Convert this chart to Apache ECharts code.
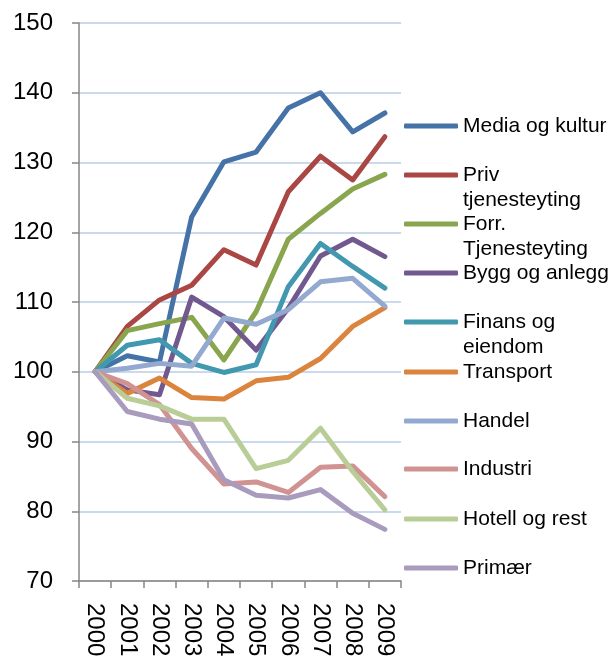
<!DOCTYPE html>
<html>
<head>
<meta charset="utf-8">
<script src="https://cdn.jsdelivr.net/npm/echarts@6/dist/echarts.min.js"></script>
<style>
  html, body { margin: 0; padding: 0; background: #fff; }
  #chart { width: 613px; height: 664px; }
</style>
</head>
<body>
<div id="chart"></div>
<script>
const years = ['2000', '2001', '2002', '2003', '2004', '2005', '2006', '2007', '2008', '2009'];

const names = ['Media og kultur', 'Priv tjenesteyting', 'Forr. Tjenesteyting', 'Bygg og anlegg',
  'Finans og eiendom', 'Transport', 'Handel', 'Industri', 'Hotell og rest', 'Primær'];
// how each legend entry wraps
const legendLabels = ['Media og kultur', 'Priv\ntjenesteyting', 'Forr.\nTjenesteyting', 'Bygg og anlegg',
  'Finans og\neiendom', 'Transport', 'Handel', 'Industri', 'Hotell og rest', 'Primær'];

const media = [100, 102.3, 101.4, 122.2, 130.1, 131.5, 137.8, 140.0, 134.4, 137.1];
const priv = [100, 106.5, 110.3, 112.4, 117.5, 115.3, 125.8, 130.9, 127.5, 133.7];
const forr = [100, 105.9, 106.9, 107.8, 101.7, 108.6, 119.0, 122.7, 126.2, 128.3];
const bygg = [100, 97.4, 96.7, 110.7, 107.9, 103.1, 109.1, 116.6, 119.0, 116.5];
const finans = [100, 103.8, 104.6, 101.2, 99.9, 101.0, 112.2, 118.4, 115.1, 112.0];
const transport = [100, 96.9, 99.1, 96.3, 96.1, 98.7, 99.2, 101.9, 106.5, 109.2];
const handel = [100, 100.5, 101.2, 100.8, 107.7, 106.8, 108.9, 112.9, 113.4, 109.4];
const industri = [100, 98.3, 95.3, 89.0, 83.9, 84.2, 82.7, 86.3, 86.5, 82.1];
const hotell = [100, 96.2, 95.1, 93.2, 93.2, 86.1, 87.3, 91.9, 85.7, 80.2];
const primaer = [100, 94.3, 93.2, 92.5, 84.5, 82.3, 81.9, 83.1, 79.7, 77.4];

const values = [media, priv, forr, bygg, finans, transport, handel, industri, hotell, primaer];
const colors = ['#4572A7', '#AA4643', '#89A54E', '#71588F', '#4198AF',
  '#DB843D', '#93A9CF', '#D19392', '#B9CD96', '#A99BBD'];

const FONT = '"Liberation Sans", Arial, sans-serif';
const legendCenters = [126, 175, 224, 273, 322, 372, 421, 469, 519, 568];
const LH = 25;

const chart = echarts.init(document.getElementById('chart'));

const series = names.map((n, i) => ({
  name: n,
  type: 'line',
  data: values[i],
  symbol: 'none',
  color: colors[i],
  lineStyle: { width: 5, cap: 'round', join: 'round', color: colors[i] },
  animation: false,
}));

// one legend per entry so wrapped labels hang below their key
const legends = names.map((n, i) => {
  const multi = legendLabels[i].includes('\n');
  return {
    data: [n],
    left: 404,
    top: legendCenters[i] - (multi ? LH * 1.5 : LH / 2),
    padding: 0,
    itemGap: 0,
    icon: 'roundRect',
    itemWidth: 54,
    itemHeight: 5,
    selectedMode: false,
    formatter: () => (multi ? ' \n' + legendLabels[i] : legendLabels[i]),
    textStyle: { fontSize: 21, lineHeight: LH, color: '#000', fontFamily: FONT },
  };
});

chart.setOption({
  backgroundColor: '#fff',
  textStyle: { fontFamily: FONT },
  grid: { left: 79, right: 212, top: 23, bottom: 83 },
  legend: legends,
  xAxis: {
    type: 'category',
    data: years,
    boundaryGap: true,
    axisLine: { lineStyle: { color: '#868686', width: 1.5 } },
    axisTick: { show: true, length: 7, lineStyle: { color: '#868686', width: 1.5 } },
    axisLabel: { rotate: -90, margin: 22, fontSize: 24, color: '#000', fontFamily: FONT, interval: 0 },
    splitLine: { show: false },
  },
  yAxis: {
    type: 'value',
    min: 70,
    max: 150,
    interval: 10,
    axisLine: { show: true, lineStyle: { color: '#868686', width: 1.5 } },
    axisTick: { show: true, length: 7, lineStyle: { color: '#868686', width: 1.5 } },
    axisLabel: { margin: 26, fontSize: 24, color: '#000', fontFamily: FONT },
    splitLine: { show: true, lineStyle: { color: '#B9CDE5', width: 1.5 } },
  },
  series,
});
</script>
</body>
</html>
